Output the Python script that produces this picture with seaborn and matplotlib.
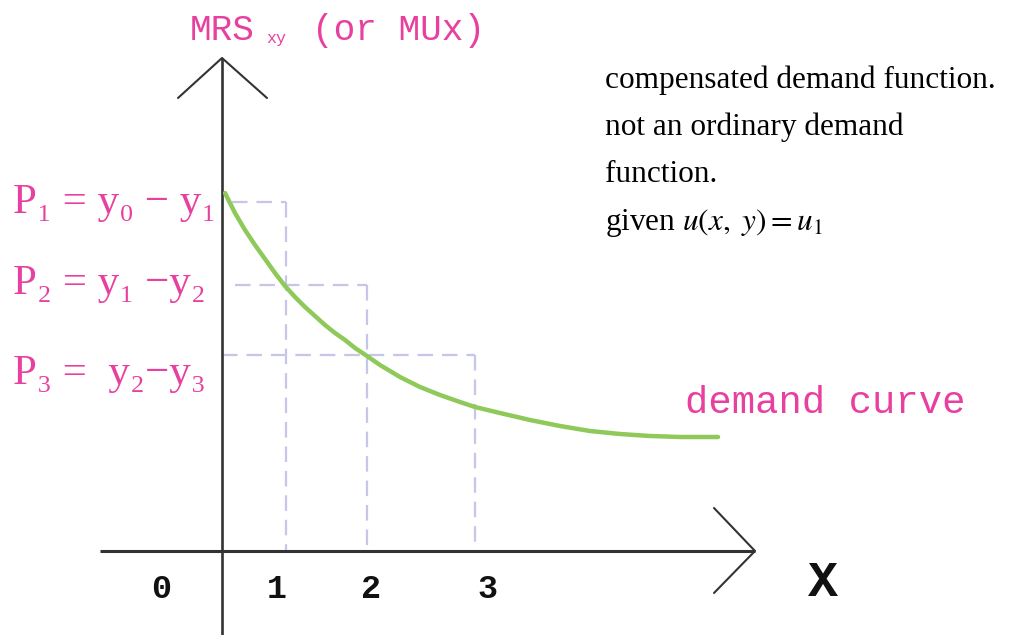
import numpy as np
import pandas as pd
import matplotlib
matplotlib.use("Agg")
import matplotlib.pyplot as plt
import seaborn as sns

# ---- data (quantity units scaled to drawing, price units) ----
curve_x = [0.03, 0.13, 0.23, 0.33, 0.43, 0.53, 0.63, 0.73, 0.83, 0.93, 1.03, 1.13,
           1.23, 1.33, 1.45, 1.58, 1.78, 1.98, 2.18, 2.38, 2.53, 2.78, 3.08, 3.38,
           3.68, 3.98, 4.28, 4.58, 4.96]
curve_y = [3.58, 3.38, 3.21, 3.06, 2.92, 2.78, 2.65, 2.54, 2.44, 2.35, 2.26, 2.18,
           2.11, 2.03, 1.95, 1.86, 1.74, 1.64, 1.56, 1.49, 1.44, 1.38, 1.31, 1.25,
           1.20, 1.17, 1.15, 1.14, 1.14]

step_x = [0.64, 1.45, 2.53]          # quantities 1, 2, 3
step_p = [3.49, 2.66, 1.96]          # prices P1, P2, P3
step_start = [0.10, 0.13, 0.00]

tick_labels = ["0", "1", "2", "3"]
tick_pos = [-0.61, 0.55, 1.49, 2.65]

price_labels = ["P\u2081 = y\u2080 \u2212 y\u2081",
                "P\u2082 = y\u2081 \u2212y\u2082",
                "P\u2083 =  y\u2082\u2212y\u2083"]
price_label_y = [3.48, 2.67, 1.77]

note_lines = ["compensated demand function.",
              "not an ordinary demand",
              "function."]

sns.set_theme(style="white")
plt.rcParams["mathtext.fontset"] = "stix"

fig = plt.figure(figsize=(10.11, 6.35), dpi=100)
ax = fig.add_axes([0, 0, 1, 1])

pink = "#e8409f"
dash_col = "#c6c6ea"
axis_col = "#333333"

# dashed step guides
for sx, sp, s0 in zip(step_x, step_p, step_start):
    ax.plot([s0, sx], [sp, sp], color=dash_col, lw=1.6, dashes=(7, 4))
    ax.plot([sx, sx], [sp, 0], color=dash_col, lw=1.6, dashes=(7, 4))

# axes with arrows
ax.plot([-1.22, 5.33], [0, 0], color=axis_col, lw=2.2, solid_capstyle="butt")
ax.plot([0, 0], [-0.84, 4.93], color=axis_col, lw=1.9, solid_capstyle="butt")
ax.plot([-0.44, 0, 0.45], [4.53, 4.93, 4.53], color=axis_col, lw=1.5)
ax.plot([4.92, 5.33, 4.92], [0.43, 0, -0.42], color=axis_col, lw=1.5)

# demand curve
df = pd.DataFrame({"x": curve_x, "y": curve_y})
sns.lineplot(data=df, x="x", y="y", ax=ax, color="#8fc95a", lw=3.2, sort=False)
ax.set_xlim(-2.22, 7.89)
ax.set_ylim(-0.84, 5.51)
ax.axis("off")

# labels
mono = "Liberation Mono"
ax.text(-0.32, 5.21, "MRS", family=mono, fontsize=26, color=pink, va="center", ha="left")
ax.text(0.44, 5.13, "xy", family=mono, fontsize=12, color=pink, va="center", ha="left")
ax.text(0.90, 5.21, "(or MUx)", family=mono, fontsize=26, color=pink, va="center", ha="left")

ax.text(4.63, 1.48, "demand curve", family=mono, fontsize=28, color=pink, va="center", ha="left")

for lab, ly in zip(price_labels, price_label_y):
    ax.text(-2.09, ly, lab, family=["Liberation Serif", "DejaVu Serif"], fontsize=31,
            color=pink, va="center", ha="left")

for lab, tp in zip(tick_labels, tick_pos):
    ax.text(tp, -0.38, lab, family=mono, fontsize=24, fontweight="bold",
            color="#111111", va="center", ha="center")
ax.text(6.01, -0.32, "X", family=mono, fontsize=36, fontweight="bold",
        color="#111111", va="center", ha="center")

note_base = [4.63, 4.16, 3.69]
for line, b in zip(note_lines, note_base):
    ax.text(3.83, b, line, family="Liberation Serif", fontsize=22.5, color="black",
            va="baseline", ha="left")
ax.text(3.83, 3.21, r"given $u(x,\ y) = u_1$", family="Liberation Serif", fontsize=22.5,
        color="black", va="baseline", ha="left")

fig.savefig("out.png", dpi=100)
